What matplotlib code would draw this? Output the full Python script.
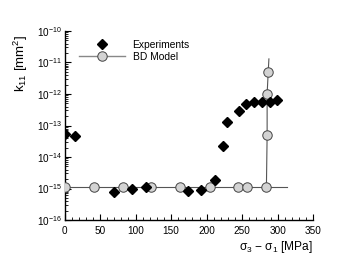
import matplotlib
matplotlib.use("Agg")
import matplotlib.pyplot as plt
from matplotlib.ticker import MultipleLocator, LogLocator, NullFormatter, FixedLocator

plt.rcParams['font.family'] = ['Liberation Sans', 'DejaVu Sans']
plt.rcParams['mathtext.fontset'] = 'custom'
plt.rcParams['mathtext.rm'] = 'Liberation Sans'
plt.rcParams['mathtext.it'] = 'Liberation Sans:italic'
plt.rcParams['mathtext.sf'] = 'Liberation Sans'

# Experiments
exp_x = [0, 15, 70, 95, 114, 174, 192, 212, 223, 229, 246, 255, 267, 278, 289, 299]
exp_y = [5.5e-14, 4.7e-14, 7.6e-16, 9.6e-16, 1.1e-15, 8.5e-16, 9.0e-16, 1.9e-15,
         2.3e-14, 1.3e-13, 2.8e-13, 4.7e-13, 5.5e-13, 5.5e-13, 5.5e-13, 6.4e-13]

# BD Model markers
bd_x = [0, 41, 82, 122, 162, 204, 244, 256, 284, 285, 285, 286.5]
bd_y = [1.15e-15, 1.15e-15, 1.15e-15, 1.15e-15, 1.15e-15, 1.15e-15, 1.15e-15,
        1.15e-15, 1.15e-15, 5e-14, 1e-12, 4.9e-12]

# BD Model curve
line_h_x = [0, 313]
line_h_y = [1.15e-15, 1.15e-15]
line_v_x = [284, 285, 285, 286.5, 287.5]
line_v_y = [1.15e-15, 5e-14, 1e-12, 4.9e-12, 1.3e-11]

y_ticks = [1e-16, 1e-15, 1e-14, 1e-13, 1e-12, 1e-11, 1e-10]

fig = plt.figure(figsize=(3.57, 2.6), dpi=100)
ax = fig.add_axes([0.1807, 0.1538, 0.697, 0.7270])

ax.plot(line_h_x, line_h_y, color='#555555', lw=0.8, zorder=2)
ax.plot(line_v_x, line_v_y, color='#555555', lw=0.8, zorder=2)
ax.plot(bd_x, bd_y, linestyle='none', marker='o', markersize=6.8,
        markerfacecolor='#d3d3d3', markeredgecolor='#444444', markeredgewidth=0.7, zorder=3)
ax.plot(exp_x, exp_y, linestyle='none', marker='D', markersize=4.6,
        color='black', zorder=4)

# legend proxies
h1, = ax.plot([], [], linestyle='none', marker='D', markersize=4.6, color='black')
h2, = ax.plot([], [], color='#888888', lw=1.0, marker='o', markersize=6.8,
              markerfacecolor='#d3d3d3', markeredgecolor='#444444', markeredgewidth=0.7)
ax.legend([h1, h2], ['Experiments', 'BD Model'], loc='upper left',
          bbox_to_anchor=(0.03, 0.99), frameon=False, fontsize=7.4,
          handlelength=4.5, handletextpad=0.7, labelspacing=0.15, borderpad=0.2)

ax.set_yscale('log')
ax.set_xlim(0, 350)
ax.set_ylim(1e-16, 1e-10)
ax.xaxis.set_major_locator(MultipleLocator(50))
ax.xaxis.set_minor_locator(MultipleLocator(10))
ax.yaxis.set_major_locator(FixedLocator(y_ticks))
ax.yaxis.set_minor_locator(LogLocator(base=10, subs=range(2, 10), numticks=20))
ax.yaxis.set_minor_formatter(NullFormatter())

for s in ['top', 'right']:
    ax.spines[s].set_visible(False)
for s in ['left', 'bottom']:
    ax.spines[s].set_linewidth(1.0)
ax.tick_params(which='both', direction='in', labelsize=7.2)
ax.tick_params(axis='y', pad=2)
ax.tick_params(axis='x', pad=4)
ax.tick_params(which='major', length=4, width=0.8)
ax.tick_params(which='minor', length=2, width=0.6)

ax.set_ylabel('k$_{11}$ [mm$^2$]', fontsize=9.5)
ax.yaxis.set_label_coords(-0.14, 0.83)
ax.set_xlabel('σ$_3$ − σ$_1$ [MPa]', fontsize=8.6)
ax.xaxis.set_label_coords(0.85, -0.10)

fig.savefig('out.png', dpi=100)
